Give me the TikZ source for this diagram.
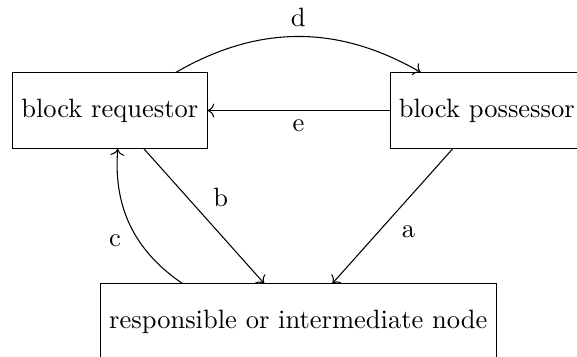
\documentclass[tikz,border=0pt]{standalone}
\usetikzlibrary{arrows.meta,positioning,calc}
\tikzset{
  peer/.style={draw, minimum height=1cm},
  msg/.style={->, auto},
}
\begin{document}
\begin{tikzpicture}
\useasboundingbox (-1.456,-3.256) rectangle (6.196,1.466);
\clip (-1.456,-3.256) rectangle (6.196,1.466);
% Peers
\node[peer] (req) at (0,0) {block requestor};
\node[peer] (pos) at (5,0) {block possessor};
\node[peer] (mid) at (2.5,-2.8) {responsible or intermediate node};

% Messages between peers
\draw[msg] (pos) to node {a} (mid);
\draw[msg] (req) to node {b} (mid);
\draw[msg] (mid) to[bend left] node {c} (req);
\draw[msg] (req) to[bend left] node {d} (pos);
\draw[msg] (pos) to node {e} (req);
\end{tikzpicture}
\end{document}
